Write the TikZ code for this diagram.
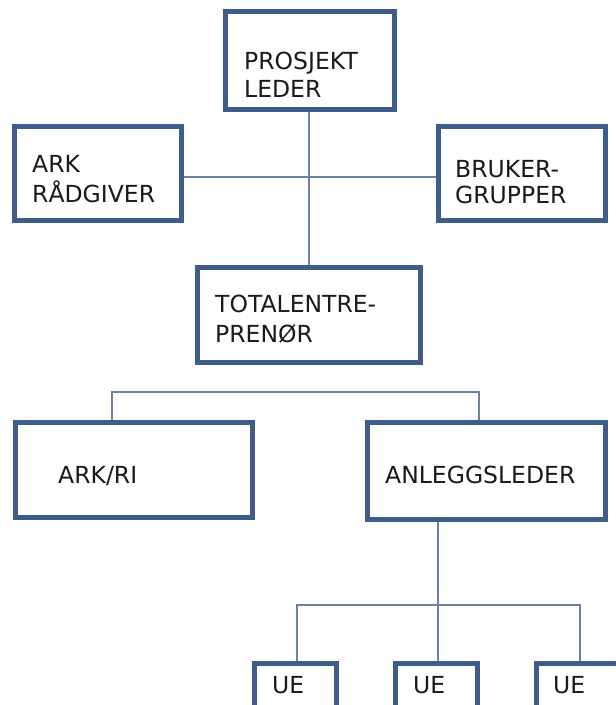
\documentclass[tikz,border=0pt]{standalone}
\usepackage{fontspec}
\setmainfont{DejaVu Sans}
\usetikzlibrary{fit,backgrounds}
\definecolor{boxblue}{HTML}{3F5D8B}
\definecolor{linkblue}{HTML}{6B82A6}
\definecolor{labelgray}{HTML}{1A1A1A}
\begin{document}
\begin{tikzpicture}[x=1pt,y=-1pt,
  orgbox/.style={draw=boxblue, line width=5pt, rectangle, inner sep=0pt, outer sep=0pt, fill=white},
  link/.style={draw=linkblue, line width=1.3pt},
  lbl/.style={anchor=base west, inner sep=0pt, text=labelgray, font=\fontsize{23.5}{27}\selectfont}]
\useasboundingbox (0,0) rectangle (616,705);

% boxes of the organisation chart
\node[orgbox, fit={(225.5,11.5) (394.5,109.5)}] (pl) {};
\node[orgbox, fit={(14.5,126.5) (181.5,220.5)}] (ark) {};
\node[orgbox, fit={(438.5,126.5) (605.5,220.5)}] (bru) {};
\node[orgbox, fit={(197.5,267.5) (420.5,362.5)}] (tot) {};
\node[orgbox, fit={(15.5,422.5) (252.5,517.5)}] (arkri) {};
\node[orgbox, fit={(367.5,422.5) (605.5,519.5)}] (anl) {};
\node[orgbox, fit={(254.5,663.5) (336.5,716)}] (ue1) {};
\node[orgbox, fit={(395.5,663.5) (477.5,716)}] (ue2) {};
\node[orgbox, fit={(536.5,663.5) (618.5,716)}] (ue3) {};

% labels
\node[lbl] (plA) at (244,69) {PROSJEKT};
\node[lbl] (plB) at (244,97) {LEDER};
\node[lbl] (arkA) at (32,172) {ARK};
\node[lbl] (arkB) at (32,202) {RÅDGIVER};
\node[lbl] (bruA) at (455,177) {BRUKER-};
\node[lbl] (bruB) at (455,203) {GRUPPER};
\node[lbl] (totA) at (215,312) {TOTALENTRE-};
\node[lbl] (totB) at (215,342) {PRENØR};
\node[lbl] (arkriA) at (58,483) {ARK/RI};
\node[lbl] (anlA) at (385,483) {ANLEGGSLEDER};
\node[lbl] (ue1A) at (272,693) {UE};
\node[lbl] (ue2A) at (413,693) {UE};
\node[lbl] (ue3A) at (553,693) {UE};

% junction points of the connectors
\coordinate (mid) at (310,177);
\coordinate (ta) at (112,392);
\coordinate (tb) at (479,392);
\coordinate (u1) at (297,605);
\coordinate (ub) at (438,605);
\coordinate (u3) at (580,605);

\begin{scope}[on background layer]
  \fill[white] (0,0) rectangle (616,705);
  \draw[link] (tot.north) -- (tot.north |- pl.south);
  \draw[link] (ark.east |- mid) -- (bru.west |- mid);
  \draw[link] (arkri.north -| ta) -- (ta) -- (tb) -- (anl.north -| tb);
  \draw[link] (anl.south -| ub) -- (ub) -- (ue2.north -| ub);
  \draw[link] (ue1.north -| u1) -- (u1) -- (u3) -- (ue3.north -| u3);
\end{scope}
\end{tikzpicture}
\end{document}
